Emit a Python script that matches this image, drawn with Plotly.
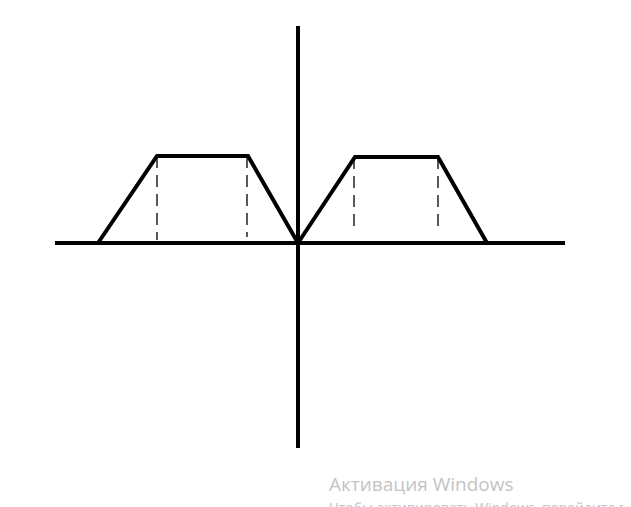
import plotly.graph_objects as go

# axes extents (offsets from the origin)
axis_x = [-243, 267]
axis_y = [-205, 217]

# trapezoid outlines
left_x = [-200, -141, -50, 0]
left_y = [0, 87, 87, 0]
right_x = [0, 57, 140, 189]
right_y = [0, 86, 86, 0]

# dashed verticals: x position, top, bottom
dash_x = [-141, -51, 56, 140]
dash_top = [87, 87, 86, 86]
dash_bottom = [3, 6, 10, 16]

fig = go.Figure()

fig.add_trace(go.Scatter(x=axis_x, y=[0, 0], mode="lines",
                         line=dict(color="black", width=4)))
fig.add_trace(go.Scatter(x=[0, 0], y=axis_y, mode="lines",
                         line=dict(color="black", width=4)))

for xs, ys in [(left_x, left_y), (right_x, right_y)]:
    fig.add_trace(go.Scatter(x=xs, y=ys, mode="lines",
                             line=dict(color="black", width=4)))

for x, t, b in zip(dash_x, dash_top, dash_bottom):
    fig.add_trace(go.Scatter(x=[x, x], y=[t, b], mode="lines",
                             line=dict(color="black", width=1.3, dash="12px,7px")))

# windows watermark (second line is cut by the window edge, as in the original)
fig.add_annotation(x=29, y=-241, xref="x", yref="y", text="Активация Windows",
                   showarrow=False, xanchor="left", yanchor="middle",
                   font=dict(family="Open Sans", size=19, color="#c4c4c4"))
fig.add_annotation(x=29, y=-264, xref="x", yref="y",
                   text="Чтобы активировать Windows, перейдите в",
                   showarrow=False, xanchor="left", yanchor="middle",
                   font=dict(family="Open Sans", size=14, color="#c4c4c4"))

# page has an 8px body margin, so ranges are shifted to compensate
fig.update_layout(
    width=631, height=507,
    margin=dict(l=0, r=0, t=0, b=0),
    plot_bgcolor="white", paper_bgcolor="white",
    showlegend=False,
    xaxis=dict(range=[-290, 341], visible=False),
    yaxis=dict(range=[-272, 235], visible=False),
)

fig.write_html("out.html")
